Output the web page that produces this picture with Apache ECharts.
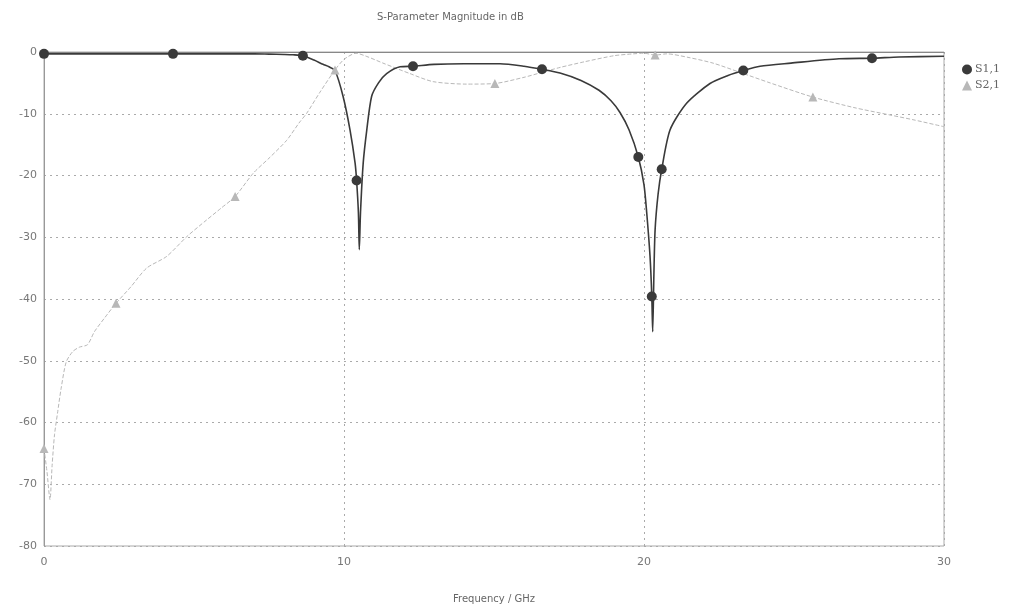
<!DOCTYPE html>
<html>
<head>
<meta charset="utf-8">
<script src="https://cdn.jsdelivr.net/npm/echarts@6/dist/echarts.min.js"></script>
<style>html,body{margin:0;padding:0;background:#fff;}#c{width:1013px;height:613px;}</style>
</head>
<body>
<div id="c"></div>
<script>
const titleText = 'S-Parameter Magnitude in dB';
const xAxisName = 'Frequency / GHz';
const seriesNames = ['S1,1', 'S2,1'];

const s11Freq = [0, 1, 2, 3, 4, 5, 6, 7, 7.5, 8, 8.3, 8.63, 9.0, 9.3, 9.5, 9.7, 9.97, 10.2, 10.37, 10.42, 10.48, 10.51, 10.55, 10.64, 10.76, 10.92, 11.15, 11.42, 11.87, 12.3, 13, 14, 15.2, 16, 16.6, 17.2, 17.9, 18.5, 18.9, 19.2, 19.5, 19.81, 20.0, 20.09, 20.2, 20.26, 20.29, 20.33, 20.37, 20.47, 20.59, 20.87, 21.42, 22.2, 22.8, 23.31, 23.87, 24.9, 26.5, 27.6, 28.5, 30];
const s11Val  = [-0.3, -0.3, -0.3, -0.3, -0.3, -0.3, -0.3, -0.3, -0.35, -0.4, -0.45, -0.6, -1.3, -2.0, -2.4, -3.0, -7.2, -12.6, -18, -20.8, -26, -32, -26, -18, -12.6, -7.2, -5, -3.5, -2.4, -2.3, -2.0, -1.9, -1.9, -2.3, -2.8, -3.4, -4.6, -6.2, -7.9, -9.8, -12.6, -17, -21.5, -26, -33, -39.6, -45.3, -36, -28.8, -23, -19, -12.6, -8.3, -5.1, -3.8, -3.0, -2.3, -1.8, -1.1, -1.0, -0.8, -0.7];
const s11MarkFreq = [0, 4.3, 8.63, 10.42, 12.3, 16.6, 19.81, 20.26, 20.59, 23.31, 27.6];
const s11MarkVal  = [-0.3, -0.3, -0.6, -20.8, -2.3, -2.8, -17, -39.6, -19, -3.0, -1.0];

const s21Freq = [0, 0.1, 0.2, 0.27, 0.35, 0.45, 0.57, 0.74, 0.96, 1.18, 1.45, 1.68, 2.03, 2.4, 2.9, 3.42, 4.09, 4.76, 5.42, 5.9, 6.37, 6.98, 7.5, 8.09, 8.5, 8.76, 9.2, 9.7, 10.0, 10.4, 10.8, 11.3, 12.2, 12.97, 14.09, 15.03, 16, 16.6, 17.2, 18, 19, 19.64, 20.0, 20.37, 20.76, 21.5, 22.3, 23.2, 24.2, 25.63, 27, 28.2, 29, 30];
const s21Val  = [-64.2, -68, -72.5, -67, -62, -58.5, -54.5, -50.2, -48.5, -47.8, -47.4, -45.3, -43, -40.7, -38, -35, -33.1, -29.9, -27.2, -25.3, -23.4, -19.6, -17.2, -14.3, -11.5, -9.9, -6.5, -2.9, -1.2, -0.2, -0.8, -1.8, -3.5, -4.8, -5.2, -5.1, -4.1, -3.3, -2.5, -1.6, -0.6, -0.3, -0.2, -0.5, -0.3, -0.9, -1.8, -3.3, -5.0, -7.3, -9, -10.2, -11, -12.1];
const s21MarkFreq = [0, 2.4, 6.37, 9.7, 15.03, 20.37, 25.63];
const s21MarkVal  = [-64.2, -40.7, -23.4, -2.9, -5.1, -0.5, -7.3];

const xTicks = [0, 10, 20, 30];
const yTicks = [-80, -70, -60, -50, -40, -30, -20, -10, 0];

const zip = (a, b) => a.map((v, i) => [v, b[i]]);

const c1 = '#3a3a3a', c2 = '#b8b8b8';
const chart = echarts.init(document.getElementById('c'), null, {renderer: 'canvas'});
chart.setOption({
  animation: false,
  backgroundColor: '#fff',
  title: {
    text: titleText, left: 372, top: 7,
    textStyle: {fontFamily: 'DejaVu Sans', fontSize: 10, fontWeight: 'normal', color: '#666'}
  },
  legend: {
    orient: 'vertical', left: 957, top: 59, itemGap: 5, itemWidth: 10, itemHeight: 10,
    data: [{name: seriesNames[0], icon: 'circle'}, {name: seriesNames[1], icon: 'triangle'}],
    textStyle: {fontFamily: 'DejaVu Serif', fontSize: 11, color: '#666', padding: [0,0,0,-2]}
  },
  grid: {left: 44, right: 69, top: 52, bottom: 67, show: true, borderColor: '#aaa', borderWidth: 1},
  xAxis: {
    type: 'value', min: xTicks[0], max: xTicks[xTicks.length-1], interval: 10,
    name: xAxisName, nameLocation: 'middle', nameGap: 48,
    nameTextStyle: {fontFamily: 'DejaVu Sans', fontSize: 10, color: '#666'},
    axisLine: {lineStyle: {color: '#888'}}, axisTick: {show: false},
    axisLabel: {fontFamily: 'DejaVu Sans', fontSize: 11, color: '#777', margin: 11},
    splitLine: {show: true, lineStyle: {type: [2, 4], color: '#aaa'}}
  },
  yAxis: {
    type: 'value', min: yTicks[0], max: yTicks[yTicks.length-1], interval: 10,
    axisLine: {show: true, lineStyle: {color: '#999'}}, axisTick: {show: false},
    axisLabel: {fontFamily: 'DejaVu Sans', fontSize: 11, color: '#777', margin: 7},
    splitLine: {show: true, lineStyle: {type: [2, 4], color: '#aaa'}}
  },
  series: [
    {name: seriesNames[0], type: 'line', data: zip(s11Freq, s11Val), showSymbol: false, smooth: 0.25,
     lineStyle: {color: c1, width: 1.6}, itemStyle: {color: c1}, z: 3},
    {name: seriesNames[1], type: 'line', data: zip(s21Freq, s21Val), showSymbol: false, smooth: 0.25,
     lineStyle: {color: c2, width: 1, type: [4, 2]}, itemStyle: {color: c2}, z: 2},
    {name: seriesNames[0], type: 'scatter', data: zip(s11MarkFreq, s11MarkVal), symbol: 'circle', symbolSize: 10,
     itemStyle: {color: c1, opacity: 1}, z: 5},
    {name: seriesNames[1], type: 'scatter', data: zip(s21MarkFreq, s21MarkVal), symbol: 'triangle', symbolSize: 9,
     itemStyle: {color: c2, opacity: 1}, z: 4}
  ]
});
</script>
</body>
</html>
